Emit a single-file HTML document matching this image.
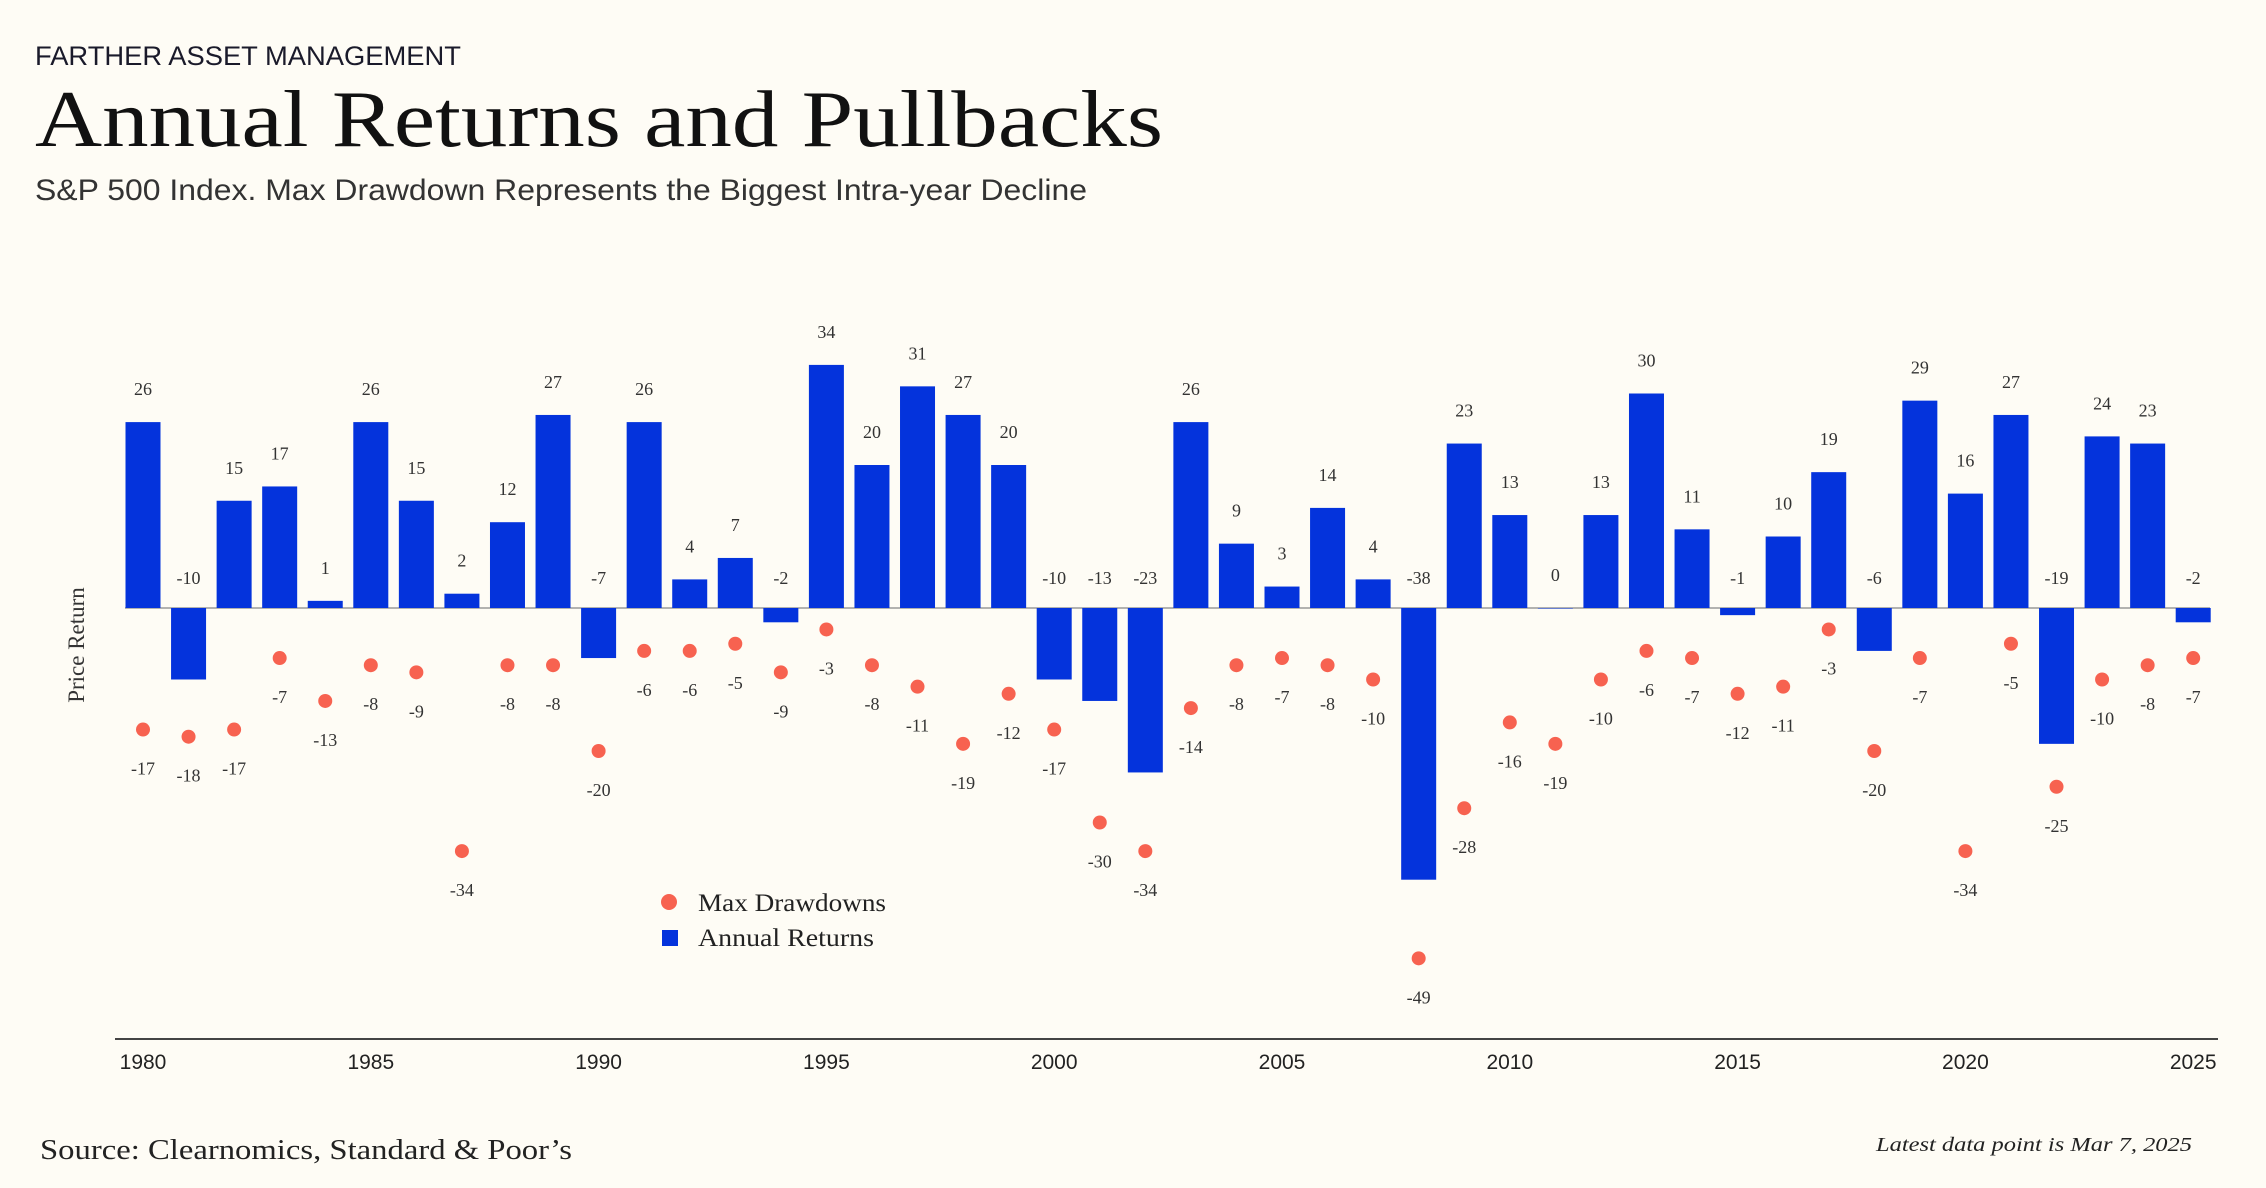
<!DOCTYPE html>
<html><head><meta charset="utf-8"><style>
html,body{margin:0;padding:0;background:#fefcf5;}
svg{display:block;}
</style></head><body>
<svg id="chart" width="2266" height="1188" viewBox="0 0 2266 1188" xmlns="http://www.w3.org/2000/svg">
<rect width="2266" height="1188" fill="#fefcf5"/>
<text x="35" y="65" font-family="Liberation Sans, sans-serif" font-size="27" fill="#1a1a2a" textLength="426" lengthAdjust="spacingAndGlyphs">FARTHER ASSET MANAGEMENT</text>
<text x="35" y="146" font-family="Liberation Serif, serif" font-size="80" fill="#111" textLength="1128" lengthAdjust="spacingAndGlyphs">Annual Returns and Pullbacks</text>
<text x="35" y="200" font-family="Liberation Sans, sans-serif" font-size="30" fill="#333" textLength="1052" lengthAdjust="spacingAndGlyphs">S&amp;P 500 Index. Max Drawdown Represents the Biggest Intra-year Decline</text>
<text transform="translate(84,645) rotate(-90)" text-anchor="middle" font-family="Liberation Serif, serif" font-size="23" fill="#333">Price Return</text>
<line x1="115" y1="1039" x2="2218" y2="1039" stroke="#444" stroke-width="2"/>
<line x1="125" y1="608" x2="2210" y2="608" stroke="#999" stroke-width="1.5"/>
<g id="bars"></g><g id="dots"></g><g id="xticks"></g>
<circle cx="669" cy="902" r="8" fill="#f76250"/>
<text x="698" y="911" font-family="Liberation Serif, serif" font-size="25" fill="#222" textLength="188" lengthAdjust="spacingAndGlyphs">Max Drawdowns</text>
<rect x="662" y="930" width="16" height="16" fill="#0433dc"/>
<text x="698" y="946" font-family="Liberation Serif, serif" font-size="25" fill="#222" textLength="176" lengthAdjust="spacingAndGlyphs">Annual Returns</text>
<text x="40" y="1159" font-family="Liberation Serif, serif" font-size="29" fill="#222" textLength="532" lengthAdjust="spacingAndGlyphs">Source: Clearnomics, Standard &amp; Poor’s</text>
<text x="1876" y="1151" font-family="Liberation Serif, serif" font-style="italic" font-size="20" fill="#222" textLength="316" lengthAdjust="spacingAndGlyphs">Latest data point is Mar 7, 2025</text>
</svg>
<script>
const years = [];
for (let y = 1980; y <= 2025; y++) years.push(y);
const returns = [26,-10,15,17,1,26,15,2,12,27,-7,26,4,7,-2,34,20,31,27,20,-10,-13,-23,26,9,3,14,4,-38,23,13,0,13,30,11,-1,10,19,-6,29,16,27,-19,24,23,-2];
const drawdowns = [-17,-18,-17,-7,-13,-8,-9,-34,-8,-8,-20,-6,-6,-5,-9,-3,-8,-11,-19,-12,-17,-30,-34,-14,-8,-7,-8,-10,-49,-28,-16,-19,-10,-6,-7,-12,-11,-3,-20,-7,-34,-5,-25,-10,-8,-7];
const tickYears = [1980,1985,1990,1995,2000,2005,2010,2015,2020,2025];
const NS='http://www.w3.org/2000/svg';
const xS = y => 143 + (y - 1980) * 45.56;
const yS = v => 608 - v * 7.15;
function mk(tag, attrs, parent, txt){const e=document.createElementNS(NS,tag);for(const k in attrs)e.setAttribute(k,attrs[k]);if(txt!==undefined)e.textContent=txt;parent.appendChild(e);return e;}
const gb=document.getElementById('bars'), gd=document.getElementById('dots'), gx=document.getElementById('xticks');
const lf={'font-family':'Liberation Serif, serif','font-size':18,fill:'#333','text-anchor':'middle'};
years.forEach((yr,i)=>{
  const v=returns[i], x=xS(yr), y0=yS(0), y1=yS(v);
  const r=mk('rect',{x:x-17.5,y:Math.min(y0,y1),width:35,height:Math.max(Math.abs(y1-y0),0.5),fill:'#0433dc'},gb);
  
  
  const ly = v>=0 ? y1-27 : y0-24;
  const t=mk('text',Object.assign({x:x,y:ly},lf),gb,String(v));
  
  
  const d=drawdowns[i], dy=yS(d);
  const c=mk('circle',{cx:x,cy:dy,r:7,fill:'#f76250'},gd);
  
  
  const dt=mk('text',Object.assign({x:x,y:dy+45},lf),gd,String(d));
  
  
});
tickYears.forEach(yr=>{
  const t=mk('text',{x:xS(yr),y:1069,'text-anchor':'middle','font-family':'Liberation Sans, sans-serif','font-size':21,fill:'#222'},gx,String(yr));
  
  
});
</script>
</body></html>
